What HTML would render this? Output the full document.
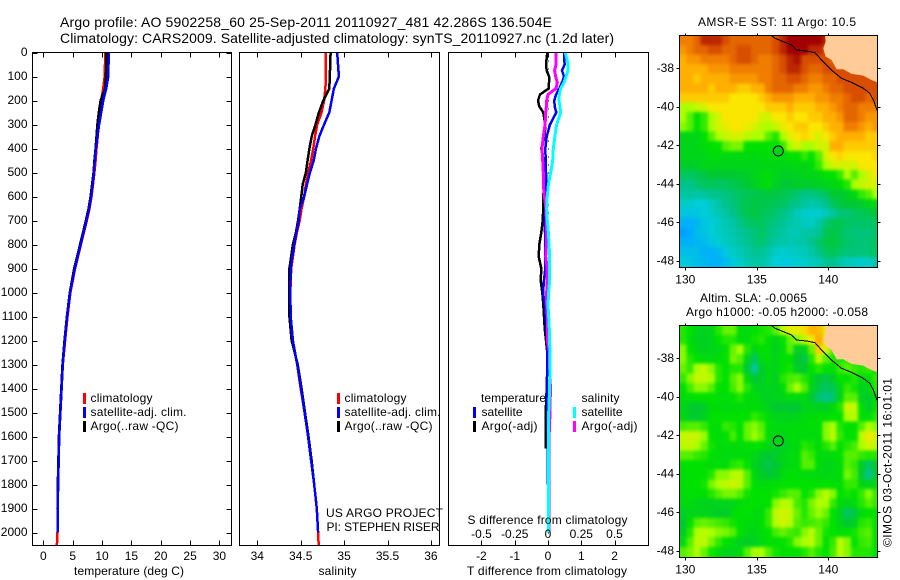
<!DOCTYPE html>
<html>
<head>
<meta charset="utf-8">
<title>Argo profile</title>
<style>
html,body{margin:0;padding:0;background:#fff;}
svg{display:block;}
text{font-family:"Liberation Sans",sans-serif;font-size:12px;fill:#000;}
.title{font-size:14px;}
</style>
</head>
<body>
<svg id="chart" xmlns="http://www.w3.org/2000/svg" width="900" height="580" viewBox="0 0 900 580">
<rect x="0" y="0" width="900" height="580" fill="#fff"/>
<defs>
<clipPath id="clip-sst"><rect x="679.5" y="35.5" width="198" height="232"/></clipPath>
<clipPath id="clip-sla"><rect x="679.5" y="325.5" width="198" height="232"/></clipPath>
<filter id="smooth-field" filterUnits="userSpaceOnUse" x="660" y="20" width="235" height="555" color-interpolation-filters="sRGB">
<feGaussianBlur stdDeviation="1.7"/>
<feComponentTransfer><feFuncA type="linear" slope="20"/></feComponentTransfer>
</filter>
</defs>
<text class="title" x="60" y="27" textLength="492" lengthAdjust="spacing">Argo profile: AO 5902258_60 25-Sep-2011 20110927_481 42.286S 136.504E</text>
<text class="title" x="60" y="43" textLength="554" lengthAdjust="spacing">Climatology: CARS2009. Satellite-adjusted climatology: synTS_20110927.nc (1.2d later)</text>

<g id="maps"></g>
<g id="panels"></g>

<rect x="32.5" y="52.5" width="199" height="493" fill="none" stroke="#000"/>
<rect x="239.5" y="52.5" width="200" height="493" fill="none" stroke="#000"/>
<rect x="448.5" y="52.5" width="200" height="493" fill="none" stroke="#000"/>

<g>
<rect x="83" y="393" width="3" height="11" fill="#f00"/>
<rect x="83" y="407" width="3" height="11" fill="#00f"/>
<rect x="83" y="421" width="3" height="11" fill="#000"/>
<text x="90.5" y="402" textLength="62">climatology</text>
<text x="90.5" y="416" textLength="96">satellite-adj. clim.</text>
<text x="90.5" y="430" textLength="88">Argo(..raw -QC)</text>
</g>
<g>
<rect x="337" y="393" width="3" height="11" fill="#f00"/>
<rect x="337" y="407" width="3" height="11" fill="#00f"/>
<rect x="337" y="421" width="3" height="11" fill="#000"/>
<text x="344.5" y="402" textLength="62">climatology</text>
<text x="344.5" y="416" textLength="96">satellite-adj. clim.</text>
<text x="344.5" y="430" textLength="88">Argo(..raw -QC)</text>
</g>
<g>
<text x="481" y="402" textLength="65">temperature</text>
<rect x="473" y="407" width="3" height="11" fill="#00f"/>
<rect x="473" y="421" width="3" height="11" fill="#000"/>
<text x="481.5" y="416" textLength="41">satellite</text>
<text x="481.5" y="430" textLength="56">Argo(-adj)</text>
<text x="581.5" y="402" textLength="38">salinity</text>
<rect x="573" y="407" width="3" height="11" fill="#0ff"/>
<rect x="573" y="421" width="3" height="11" fill="#f0f"/>
<text x="581.5" y="416" textLength="41">satellite</text>
<text x="581.5" y="430" textLength="56">Argo(-adj)</text>
</g>

<text x="326" y="517" textLength="117">US ARGO PROJECT</text>
<text x="326.5" y="531" textLength="113">PI: STEPHEN RISER</text>
<text x="467.5" y="524" textLength="160">S difference from climatology</text>
<text x="74" y="575" textLength="110">temperature (deg C)</text>
<text x="318.5" y="575" textLength="38">salinity</text>
<text x="467" y="575" textLength="160">T difference from climatology</text>
<text x="698" y="26" textLength="158">AMSR-E SST: 11 Argo: 10.5</text>
<text x="700" y="302" textLength="107">Altim. SLA: -0.0065</text>
<text x="686" y="316" textLength="182">Argo h1000: -0.05 h2000: -0.058</text>
<text transform="translate(891.5,547) rotate(-90)" x="0" y="0" textLength="169">©IMOS 03-Oct-2011 16:01:01</text>
</svg>
<script>
// ---- profile data ----
const depthLevels = [0,50,100,150,200,250,300,350,400,450,500,550,600,650,700,750,800,900,1000,1100,1200,1300,1400,1500,1600,1700,1800,1900,2000,2054];
const tempClim = [10.5,10.5,10.45,10.2,9.85,9.6,9.35,9.25,9.05,8.9,8.7,8.45,8.2,7.85,7.4,6.9,6.4,5.4,4.6,4.1,3.7,3.3,3.1,2.85,2.66,2.55,2.5,2.45,2.4,2.3];
const tempSat = [11.1,11.1,11.05,10.7,10.2,9.85,9.5,9.2,8.95,8.75,8.6,8.4,8.15,7.8,7.35,6.85,6.35,5.35,4.55,4.05,3.65,3.3,3.1,2.9,2.7,2.6,2.5,2.45,2.45,null];
const tempArgo = [10.7,10.7,10.65,10.5,9.75,9.45,9.2,9.05,8.9,8.7,8.55,8.3,8.05,7.7,7.25,6.75,6.25,5.25,4.5,4.0,3.6,3.25,3.05,2.85,2.65,2.55,2.45,2.4,2.4,null];
const salClim = [34.79,34.79,34.79,34.785,34.77,34.74,34.69,34.665,34.645,34.62,34.588,34.56,34.54,34.51,34.488,34.456,34.43,34.39,34.38,34.385,34.405,34.46,34.5,34.545,34.585,34.625,34.655,34.685,34.70,34.707];
const salSat = [34.92,34.93,34.94,34.883,34.856,34.83,34.77,34.714,34.676,34.65,34.607,34.573,34.54,34.49,34.477,34.45,34.425,34.385,34.38,34.385,34.41,34.46,34.505,34.545,34.585,34.62,34.655,34.685,34.70,null];
const salArgo = [34.845,34.84,34.835,34.83,34.76,34.71,34.67,34.627,34.6,34.58,34.56,34.523,34.507,34.49,34.47,34.445,34.41,34.37,34.37,34.37,34.395,34.465,34.51,34.55,34.59,34.625,34.655,34.685,34.7,null];
const diffDepths = [0,50,75,100,125,150,175,200,225,250,300,350,400,450,500,550,600,650,700,750,800,850,900,950,1000,1050,1100,1150,1200,1250,1300,1400,1500,1600,1650,1800,2000];
const diffTSat = [.48,.5,.42,.48,.42,.34,.24,.19,.2,.25,.06,-.04,-.08,-.07,-.06,-.06,-.08,-.08,-.1,-.09,-.09,-.09,-.08,-.12,-.15,-.1,-.07,-.05,-.03,-.02,-.02,-.04,-.02,-.01,-.01,0,0];
const diffTArgo = [-.02,-.06,-.04,.03,.03,.02,-.24,-.3,-.26,-.14,-.08,-.1,-.2,-.13,-.12,-.12,-.14,-.14,-.16,-.2,-.26,-.28,-.2,-.22,-.17,-.14,-.12,-.1,-.06,-.02,-.02,-.04,-.07,-.07,-.07,null,null];
const diffSSat = [.13,.152,.15,.135,.12,.095,.085,.083,.09,.095,.065,.052,.04,.035,.02,.003,-.005,-.01,-.005,.003,.008,.012,.012,.012,.005,0,.005,.01,.012,.015,.015,.012,.005,.003,.003,.003,.003];
const diffSArgo = [.06,.06,.05,.058,.07,.06,0,-.01,-.012,-.017,-.022,-.035,-.045,-.04,-.035,-.035,-.027,-.015,-.012,-.01,-.012,-.017,-.007,-.005,-.01,-.01,-.005,-.005,-.005,.012,.012,.018,.015,.008,.008,.008,.008];
// ---- tick labels ----
const depthTicks = [0,100,200,300,400,500,600,700,800,900,1000,1100,1200,1300,1400,1500,1600,1700,1800,1900,2000];
const tempTicks = [0,5,10,15,20,25,30];
const salTicks = [34,34.5,35,35.5,36];
const tDiffTicks = [-2,-1,0,1,2];
const sDiffTicks = [-0.5,-0.25,0,0.25,0.5];
const lonTicks = [130,135,140];
const latTicks = [-38,-40,-42,-44,-46,-48];
// ---- map data ----
const floatLon = 136.504;
const floatLat = -42.286;
const floatSst = 10.5;
const floatSla = -0.05;
const coastLon = [136.04,136.27,136.85,137.44,137.79,138.48,139.07,139.42,139.77,140.35,140.93,141.63,142.45,142.91,143.15,143.43];
const coastLat = [-36.32,-36.44,-36.62,-36.79,-37.05,-37.10,-37.19,-37.48,-37.74,-38.17,-38.52,-38.73,-39.04,-39.30,-39.64,-40.2];
const landLon = [139.77,139.81,139.65,139.81,140.23,140.58,141.05,141.63,142.45,143.03,143.6,143.6];
const landLat = [-36.2,-36.62,-36.96,-37.39,-37.57,-38.05,-38.05,-38.29,-38.38,-38.61,-38.78,-36.2];
const colorStops = [[0,120,255],[0,170,255],[0,205,215],[0,195,140],[0,200,50],[0,225,0],[170,255,0],[250,230,0],[255,175,0],[240,125,0],[215,78,0],[160,0,0]];
const sstGrid = [
[15,15,15.5,16.5,16.5,16.5,16,15.5,15.5,15.5,15.5,15.5,15.5,16,16.5,17,17,17,17,17,16.5],
[14.5,15,15.5,15.5,16,16,15.5,15.5,16,16,15.5,15.5,15.5,16,16.5,17,17,17,16.5,16.5,16],
[14,14.5,14.5,15,15,15,15,15.5,16,16,15.5,15,15,15.5,16,16.5,16.8,16,16,16,16,15.5],
[14,14,14,14,14.5,14.5,14.5,15,15,15,15,15,15,15.5,16,16.5,16.5,16,15.5,15.5,16,16,16,16,16],
[14,14,13.5,14,14,14,14,14.5,14.5,14.5,14.5,15,15,15.5,15.5,16,16,15.5,15,15,15.5,15.5,16,16,16,16,16,16],
[14,14,14,14,13.5,14,14,14,13.5,13.5,14,14,15,15.5,15.5,15.5,15,15,14.5,14.5,15,15.5,15.5,16,16,16,16,16],
[13.5,13.5,13.5,13.5,13.5,13.5,13.5,13,13,13,13,13.5,14,14.5,14.5,14.5,14,14,14,14.5,14.5,15,15,15.5,16,16,15.5,16],
[12,12,12.3,12.5,13,13,13,13,13,13,13,13,13.5,13.5,13.5,14,13.5,13.5,13.5,14,14,14.5,15,15.5,15.5,15,15,15],
[12,11.5,11,11.3,12,12.5,13,13,13,13,13,12.5,12.5,13,13,13.5,13,13,13.5,13.5,14,14,14.5,15.5,15.5,15,14.5,14.5],
[11.8,11.5,11,11.3,12,12.5,12.7,13,13,12.8,12.5,12.2,12,12.3,12.8,13,13.5,13.5,13,13,13.5,14,14,15,15,14.5,14,14.5],
[10.5,10.6,10.5,11,11.5,12,12.3,12.5,12.5,12.2,12,12,11.5,11.2,12,12.7,13,13.3,13,12.5,13,13.5,14,14,14,14,13.5,13.5],
[10.5,10.5,10.6,10.8,11,11,11.5,11.7,11.7,11,11,11,11,11,11.3,12,12.5,12,12,12.5,12.5,14,14,13.5,13.5,13.5,13.5,13.5],
[10.5,10.5,10.5,10.5,10.8,10.8,10.7,10.7,10.7,10.7,10.7,10.8,10.8,10.7,10.7,11,11,11.3,11,11.5,12.5,13,13.3,13,13,13,13,13.3],
[10.2,10.2,10.3,10.5,10.5,10.5,10.5,10.5,10.5,10.5,10.5,10.5,10.6,10.6,10.5,10.6,10.7,10.6,10.8,11.3,12,12.5,12.5,12.5,12.5,13,13,13],
[9.5,9.5,9.6,9.8,10,10,10,10,10.2,10.2,10.5,10.7,10.8,10.5,10.3,10.3,10.3,10.5,10.5,10.7,11,11,11.3,12,11.5,12,12.5,13],
[9,9,9.3,9.5,9.5,9.5,9.5,9.7,9.8,10,10.3,10.6,10.8,10.3,10,10,10.2,10.2,10.2,10.3,10.5,10.6,10.8,11.2,12,12.3,12.5,12.5],
[8.7,8.8,8.7,8.8,9,9,9.2,9.3,9.5,9.6,9.7,9.8,9.9,9.8,9.7,9.5,9.3,9.1,9.1,9.3,9.5,10,10,10.3,10.7,11.3,11.5,12],
[8.2,8.2,8,8,8.3,8.6,9,9.2,9.5,9.7,9.8,9.7,9.7,9.6,9.5,9.2,9,8.8,8.6,8.7,9,9.5,9.8,10,10,10.2,10.5,10.7],
[7.8,7.7,7.8,8,8.2,8.5,8.7,9,9.4,9.7,9.8,9.6,9.5,9.3,9.1,8.8,8.4,8.2,8.1,8.1,8.4,8.8,9.2,9.3,9.5,9.6,9.7,10],
[7.2,7.2,7.3,7.8,8,8.2,8.5,8.7,9,9.4,9.5,9.5,9.3,9.1,8.9,8.6,8.5,8.3,8.2,8.7,9.3,9.6,9.7,9.5,9.4,9.4,9.4,9.5],
[6.8,7,7.5,7.7,8,8.2,8.4,8.6,8.8,9,9.2,9.5,9.1,8.9,8.7,8.5,8.5,8.7,8.7,8.9,9.6,9.8,9.6,9.3,9.2,9.2,9.2,9.4],
[7.2,7.2,7.3,7.5,7.8,8,8.3,8.5,8.7,8.9,9.2,9.3,9,8.7,8.6,8.5,8.6,8.6,9,9.4,9.8,9.9,9.6,9.4,9.3,9.2,9.3,9.5],
[7.6,7.6,7.5,7.2,7.2,7.4,7.8,8.2,8.4,8.7,8.9,8.9,8.6,8.2,8.1,8.2,8.3,8.4,8.6,9,9.5,9.6,9.4,9.2,9.2,9.2,9.3,9.5],
[7.9,7.8,7.6,7.4,7.2,7.2,7.5,7.9,8.2,8.5,8.7,8.7,8.4,8,7.9,7.9,8.1,8.2,8.3,8.5,8.9,9,8.6,8.4,8.3,8.2,8.2,8.7]
];
const slaGrid = [
[.02,0,-.05,-.07,-.05,.02,.06,.06,-.02,-.03,0,.01,.02,.05,.12,.17,.17,.22,.29,.28,.17],
[.02,-.02,-.06,-.07,-.05,0,.02,.02,-.03,-.02,.01,.02,-.01,-.05,0,.06,.08,.12,.19,.31,.18,.08],
[.08,0,-.04,-.06,-.05,-.04,-.01,.06,.1,.02,-.05,0,-.01,-.06,-.02,.05,-.07,-.06,.06,.25,.16,.05,.02,.02],
[.08,.02,0,-.02,-.03,-.02,0,.07,.05,-.05,-.15,-.03,-.02,-.05,-.01,0,-.1,-.12,.02,.12,.05,.02,.02,.03,.02,.02,.02],
[.06,.03,.1,.13,.08,.02,0,.02,.02,-.1,-.22,-.08,-.04,-.05,0,.01,-.08,-.1,0,.02,0,-.01,.03,.05,.03,.02,.03,0],
[.03,.08,.13,.13,.1,.02,0,.05,.08,-.03,-.1,-.08,-.03,-.06,.02,.04,.05,.02,-.04,-.1,-.12,-.08,0,0,.02,-.03,-.01,.03],
[0,.04,.08,.08,.05,0,0,.04,.08,.02,-.05,-.07,-.05,-.06,-.02,.06,.1,.05,-.05,-.12,-.15,-.13,-.05,.03,.01,-.06,-.05,.02],
[-.02,-.01,0,0,0,-.01,-.02,0,.02,-.02,-.02,-.05,-.07,-.05,-.05,-.02,-.03,-.02,-.1,-.17,-.2,-.17,-.05,.05,.05,-.07,-.08,-.02],
[-.05,-.08,-.1,-.08,-.02,-.02,-.03,-.02,-.03,-.02,-.02,-.03,-.06,-.1,-.09,-.1,-.1,-.05,-.05,-.06,-.07,-.03,.02,.14,.13,-.01,-.08,0],
[-.04,-.08,-.09,-.06,-.01,0,-.01,0,0,0,.03,.01,-.02,-.05,-.05,-.06,-.05,-.03,-.02,-.01,-.02,0,0,.1,.12,0,-.02,.02],
[.04,.05,.05,.03,-.01,-.02,.03,.02,0,.06,.08,.05,-.01,-.03,-.03,-.02,-.02,-.02,-.01,-.01,.08,.1,.02,0,0,.05,.1,.08],
[.13,.14,.13,.09,0,-.02,0,.04,0,.06,.09,.06,-.02,-.05,-.04,-.02,-.02,-.02,-.02,-.02,.08,.12,.03,0,0,.12,.18,.15],
[.12,.13,.1,.06,.01,-.02,-.02,-.02,-.02,-.01,0,0,-.04,-.07,-.07,-.04,-.02,.02,.01,-.02,.02,.05,0,.02,.04,.1,.15,.12],
[.05,.05,.03,.02,0,-.02,-.03,-.02,-.02,-.02,-.04,-.08,-.1,-.08,-.05,-.03,-.02,.05,.03,-.02,-.03,-.02,0,.05,.05,.03,.02,.02],
[0,0,0,-.01,-.02,-.02,-.02,.02,.03,0,-.06,-.1,-.13,-.1,-.05,-.03,-.02,.05,.05,-.02,-.05,-.04,-.02,.05,.03,-.08,-.15,-.08],
[-.02,-.01,0,0,.02,.08,.08,.11,.12,.05,-.04,-.08,-.1,-.08,-.03,-.01,-.01,-.02,-.03,-.03,-.04,-.03,-.02,.07,.04,-.1,-.2,-.1],
[-.01,0,0,.01,.07,.1,.12,.14,.12,.05,-.01,-.03,-.02,-.01,0,0,0,0,0,-.01,0,-.01,-.02,.03,.03,-.04,-.06,-.03],
[-.02,-.01,-.01,-.01,.02,.05,.07,.07,.05,.01,0,0,0,.01,.03,.05,.05,0,.02,.08,.12,.08,0,.01,0,.03,.08,.03],
[-.03,-.03,-.04,-.06,-.06,-.05,-.05,-.05,-.02,-.01,0,-.01,0,.08,.12,.1,.04,.02,.07,.11,.1,.03,-.03,-.05,-.02,.02,.05,.03],
[-.07,-.05,-.05,-.05,-.06,-.08,-.08,-.03,0,-.01,-.02,-.02,.03,.12,.15,.13,.06,.02,.06,.09,.06,0,-.07,-.15,-.12,-.02,0,0],
[-.1,0,.05,.06,.05,.04,.03,.01,-.01,-.02,-.03,-.01,.03,.11,.15,.12,.05,.03,.04,.05,.03,0,-.05,-.1,-.07,.02,.03,0],
[-.08,.02,.1,.12,.1,.08,.07,.05,0,-.04,-.04,-.02,0,.04,.06,.04,.03,.08,.12,.06,.01,0,-.01,0,.01,.04,.05,0],
[-.03,.05,.12,.12,.07,.03,0,-.03,-.06,-.08,-.07,-.03,0,-.01,0,.02,.08,.1,.12,.06,0,.03,.12,.08,0,.03,.04,0],
[.05,.07,.1,.06,.01,-.02,-.05,-.05,-.03,.05,.1,.1,.05,.01,0,0,0,.02,.05,.02,0,.04,.12,.08,.02,.02,.02,0]
];

// ---- scales ----
const NS = 'http://www.w3.org/2000/svg';
const yDepth = d => 52.5 + 0.24 * d;
const xTemp = t => 43.4 + 5.867 * t;
const xSal = s => 257.3 + 86.8 * (s - 34);
const xTDiff = t => 548 + 33.3 * t;
const xSDiff = s => 548 + 133 * s;
const xLon = lon => 685.3 + 14.3 * (lon - 130);
const yLatSst = lat => 68.3 + 19.27 * (-38 - lat);
const yLatSla = lat => 358.3 + 19.27 * (-38 - lat);
const sstIndex = v => v - 6;
const slaIndex = v => v * 10 + 5;
const gridLon0 = 129.58;
const gridLat0 = -36.28;
const gridStep = 0.5;

const panels = document.getElementById('panels');
const maps = document.getElementById('maps');

function colorAt(idx) {
  const i = Math.max(0, Math.min(colorStops.length - 1.001, idx));
  const k = Math.floor(i), f = i - k;
  const a = colorStops[k], b = colorStops[k + 1];
  return 'rgb(' + a.map((c, n) => Math.round(c + (b[n] - c) * f)).join(',') + ')';
}
function drawProfile(xs, ds, vals, xScale, color, width) {
  const el = document.createElementNS(NS, 'polyline');
  const pts = [];
  vals.forEach((v, i) => { if (v !== null) pts.push(xScale(v).toFixed(1) + ',' + yDepth(ds[i]).toFixed(1)); });
  el.setAttribute('points', pts.join(' '));
  el.setAttribute('fill', 'none');
  el.setAttribute('stroke', color);
  el.setAttribute('stroke-width', width);
  el.setAttribute('shape-rendering', 'crispEdges');
  panels.appendChild(el);
  return el;
}
function tick(parent, x1, y1, x2, y2) {
  const el = document.createElementNS(NS, 'line');
  
  
  el.setAttribute('x1', x1); el.setAttribute('y1', y1);
  el.setAttribute('x2', x2); el.setAttribute('y2', y2);
  el.setAttribute('stroke', '#000');
  el.setAttribute('shape-rendering', 'crispEdges');
  parent.appendChild(el);
}
function tickText(parent, x, y, str, anchor) {
  const el = document.createElementNS(NS, 'text');
  
  
  el.setAttribute('x', x); el.setAttribute('y', y);
  el.setAttribute('text-anchor', anchor);
  el.textContent = str;
  parent.appendChild(el);
}
function xTicks(values, scale, withLabels) {
  values.forEach(v => {
    const x = Math.round(scale(v)) + 0.5;
    tick(panels, x, 52.5, x, 57.5);
    tick(panels, x, 545.5, x, 540.5);
    if (withLabels) tickText(panels, scale(v), 560, String(v), 'middle');
  });
}

// ---- temperature panel ----
let s;
s = drawProfile(null, depthLevels, tempClim, xTemp, '#f00', 2.5);


s = drawProfile(null, depthLevels, tempArgo, xTemp, '#000', 2.5);


s = drawProfile(null, depthLevels, tempSat, xTemp, '#00f', 2.5);


xTicks(tempTicks, xTemp, true);
depthTicks.forEach(d => {
  const y = Math.round(yDepth(d)) + 0.5;
  tick(panels, 32.5, y, 37.5, y);
  tick(panels, 231.5, y, 226.5, y);
  tickText(panels, 27.5, yDepth(d) + 3.5, String(d), 'end');
});

// ---- salinity panel ----
s = drawProfile(null, depthLevels, salClim, xSal, '#f00', 2.5);


s = drawProfile(null, depthLevels, salArgo, xSal, '#000', 2.5);


s = drawProfile(null, depthLevels, salSat, xSal, '#00f', 2.5);


xTicks(salTicks, xSal, true);

// ---- difference panel ----
const zeroLine = document.createElementNS(NS, 'line');


zeroLine.setAttribute('x1', xTDiff(0) + 0.5);
zeroLine.setAttribute('x2', xTDiff(0) + 0.5);
zeroLine.setAttribute('y1', yDepth(0));
zeroLine.setAttribute('y2', yDepth(2054));
zeroLine.setAttribute('stroke', '#000');
zeroLine.setAttribute('stroke-dasharray', '1 7');
zeroLine.setAttribute('shape-rendering', 'crispEdges');
panels.appendChild(zeroLine);
s = drawProfile(null, diffDepths, diffTArgo, xTDiff, '#000', 2.5);


s = drawProfile(null, diffDepths, diffTSat, xTDiff, '#00f', 2.5);


s = drawProfile(null, diffDepths, diffSArgo, xSDiff, '#f0f', 3);


s = drawProfile(null, diffDepths, diffSSat, xSDiff, '#0ff', 3);


xTicks(tDiffTicks, xTDiff, true);
sDiffTicks.forEach(v => tickText(panels, xSDiff(v), 538, String(v), 'middle'));

// ---- maps ----
function drawMap(grid, toIndex, yLat, clipId, floatIdx, frameTop) {
  const g = document.createElementNS(NS, 'g');
  g.setAttribute('clip-path', 'url(#' + clipId + ')');
  maps.appendChild(g);
  const field = document.createElementNS(NS, 'g');
  
  
  field.setAttribute('filter', 'url(#smooth-field)');
  g.appendChild(field);
  const cw = 14.3 * gridStep, ch = 19.27 * gridStep;
  grid.forEach((row, j) => row.forEach((v, i) => {
    if (v === null) return;
    const r = document.createElementNS(NS, 'rect');
    
    
    r.setAttribute('x', xLon(gridLon0 + i * gridStep).toFixed(2));
    r.setAttribute('y', yLat(gridLat0 - j * gridStep).toFixed(2));
    r.setAttribute('width', (cw + 0.6).toFixed(2));
    r.setAttribute('height', (ch + 0.6).toFixed(2));
    r.setAttribute('fill', colorAt(toIndex(v)));
    r.setAttribute('shape-rendering', 'crispEdges');
    field.appendChild(r);
  }));
  const land = document.createElementNS(NS, 'polygon');
  
  
  land.setAttribute('points', landLon.map((lon, i) => xLon(lon).toFixed(1) + ',' + yLat(landLat[i]).toFixed(1)).join(' '));
  land.setAttribute('fill', '#ffcc99');
  g.appendChild(land);
  const coast = document.createElementNS(NS, 'polyline');
  
  
  coast.setAttribute('points', coastLon.map((lon, i) => xLon(lon).toFixed(1) + ',' + yLat(coastLat[i]).toFixed(1)).join(' '));
  coast.setAttribute('fill', 'none');
  coast.setAttribute('stroke', '#000');
  coast.setAttribute('shape-rendering', 'crispEdges');
  g.appendChild(coast);
  const circle = document.createElementNS(NS, 'circle');
  
  
  circle.setAttribute('cx', xLon(floatLon));
  circle.setAttribute('cy', yLat(floatLat));
  circle.setAttribute('r', 5);
  circle.setAttribute('fill', colorAt(floatIdx));
  circle.setAttribute('stroke', '#000');
  g.appendChild(circle);
  const frame = document.createElementNS(NS, 'rect');
  
  
  frame.setAttribute('x', 679.5);
  frame.setAttribute('y', frameTop);
  frame.setAttribute('width', 198);
  frame.setAttribute('height', 232);
  frame.setAttribute('fill', 'none');
  frame.setAttribute('stroke', '#000');
  frame.setAttribute('shape-rendering', 'crispEdges');
  maps.appendChild(frame);
  lonTicks.forEach(lon => {
    const x = Math.round(xLon(lon)) + 0.5;
    tick(maps, x, frameTop, x, frameTop - 2);
    tick(maps, x, frameTop + 232, x, frameTop + 235);
    tickText(maps, xLon(lon), frameTop + 248, String(lon), 'middle');
  });
  latTicks.forEach(lat => {
    const y = Math.round(yLat(lat)) + 0.5;
    tick(maps, 679.5, y, 676.5, y);
    tick(maps, 877.5, y, 880.5, y);
    tickText(maps, 674, yLat(lat) + 3.5, String(lat), 'end');
  });
}
drawMap(sstGrid, sstIndex, yLatSst, 'clip-sst', sstIndex(floatSst), 35.5);
drawMap(slaGrid, slaIndex, yLatSla, 'clip-sla', slaIndex(floatSla), 325.5);
</script>
</body>
</html>
